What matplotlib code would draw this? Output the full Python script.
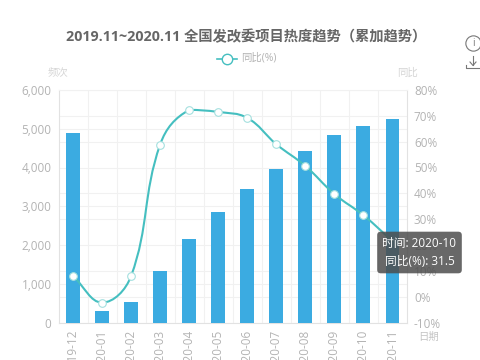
import matplotlib
matplotlib.use("Agg")
import matplotlib.pyplot as plt
from matplotlib.path import Path
from matplotlib.patches import PathPatch

plt.rcParams['font.family'] = ['Open Sans', 'Noto Sans CJK SC', 'DejaVu Sans']

months = ["2019-12", "2020-01", "2020-02", "2020-03", "2020-04", "2020-05",
          "2020-06", "2020-07", "2020-08", "2020-09", "2020-10", "2020-11"]
counts = [4880, 300, 540, 1320, 2150, 2850, 3450, 3960, 4430, 4830, 5070, 5260]
yoy = [8.0, -2.3, 8.0, 58.9, 72.3, 71.5, 69.2, 59.0, 50.6, 39.7, 31.5, 21.5]
count_ticks = [0, 1000, 2000, 3000, 4000, 5000, 6000]
yoy_ticks = [-10, 0, 10, 20, 30, 40, 50, 60, 70, 80]

GREY = "#b3b3b3"
GRID = "#f1f1f1"
TEAL = "#45bfc0"
BLUE = "#3babe1"


def clamp(v, a, b):
    return max(min(a, b), min(v, max(a, b)))


def smooth_path(xs, ys, smooth=0.4, xpx=29.0, ypx=2.58):
    # same control point rule as a smooth echarts line, no overshoot past neighbours
    n = len(xs)
    before, after = [], []
    for i in range(n):
        prev_i = max(i - 1, 0)
        next_i = min(i + 1, n - 1)
        d0 = ((xs[i] - xs[prev_i]) ** 2 * xpx ** 2 + (ys[i] - ys[prev_i]) ** 2 * ypx ** 2) ** 0.5
        d1 = ((xs[next_i] - xs[i]) ** 2 * xpx ** 2 + (ys[next_i] - ys[i]) ** 2 * ypx ** 2) ** 0.5
        r1 = d1 / (d0 + d1)
        vx = xs[next_i] - xs[prev_i]
        vy = ys[next_i] - ys[prev_i]
        after.append((xs[i] + vx * smooth * r1, clamp(ys[i] + vy * smooth * r1, ys[i], ys[next_i])))
        before.append((xs[i] - vx * smooth * (1 - r1), clamp(ys[i] - vy * smooth * (1 - r1), ys[i], ys[prev_i])))
    verts = [(xs[0], ys[0])]
    codes = [Path.MOVETO]
    for i in range(n - 1):
        verts += [after[i], before[i + 1], (xs[i + 1], ys[i + 1])]
        codes += [Path.CURVE4] * 3
    return Path(verts, codes)


fig = plt.figure(figsize=(4.8, 3.6), dpi=100)
ax = fig.add_axes([58.5 / 480, 1 - 322.5 / 360, 348.5 / 480, 232.5 / 360])
x = list(range(len(months)))

ax.bar(x, counts, width=0.48, color=BLUE, zorder=3)
ax.set_xlim(-0.5, 11.5)
ax.set_ylim(0, 6000)
ax.set_yticks(count_ticks)
ax.set_yticklabels([f"{v:,}" for v in count_ticks])
ax.set_yticks([(v + 10) / 90 * 6000 for v in yoy_ticks], minor=True)
ax.set_xticks(x)
ax.set_xticklabels(months, rotation=90)
ax.set_xticks([i + 0.5 for i in x[:-1]], minor=True)
ax.grid(True, which="both", color=GRID, lw=0.8, zorder=0)
ax.grid(False, which="major", axis="x")
ax.tick_params(which="both", length=0)
ax.tick_params(axis="y", labelsize=8.5, labelcolor=GREY, pad=5)
ax.tick_params(axis="x", labelsize=8.5, labelcolor=GREY, pad=5)
for s in ax.spines.values():
    s.set_color("#e2e2e2")
ax.spines["top"].set_color(GRID)

ax2 = ax.twinx()
ax2.set_ylim(-10, 80)
ax2.set_yticks(yoy_ticks)
ax2.set_yticklabels([f"{v}%" for v in yoy_ticks])
ax2.tick_params(length=0, labelsize=8.5, labelcolor=GREY, pad=5)
for s in ax2.spines.values():
    s.set_visible(False)
ax2.add_patch(PathPatch(smooth_path(x, yoy), fill=False, ec=TEAL, lw=1.5, zorder=4))
ax2.plot(x[:-1], yoy[:-1], ls="none", marker="o", ms=5.5, mfc="white", mec="#a5e0df", mew=0.8, zorder=5)

fig.text(246 / 480, 1 - 37 / 360, "2019.11~2020.11 全国发改委项目热度趋势（累加趋势）",
         ha="center", va="center", fontsize=10.3, color="#666666", fontweight="bold")

# legend
fig.add_artist(plt.Line2D([217 / 480, 237 / 480], [1 - 59 / 360] * 2, color=TEAL, lw=1.2))
fig.add_artist(plt.Line2D([227 / 480], [1 - 59 / 360], marker="o", ms=7.5, mfc="white", mec=TEAL, mew=1))
fig.text(241 / 480, 1 - 58.5 / 360, "同比(%)", ha="left", va="center", fontsize=7.5, color=GREY)

# axis names
fig.text(58 / 480, 1 - 73 / 360, "频次", ha="center", va="center", fontsize=7.5, color="#d5d5d5")
fig.text(407 / 480, 1 - 73 / 360, "同比", ha="center", va="center", fontsize=7.5, color="#d5d5d5")
fig.text(429 / 480, 1 - 337 / 360, "日期", ha="center", va="center", fontsize=7.5, color="#c5c5c5")

# tooltip
fig.text(419.5 / 480, 1 - 252.5 / 360, "时间: 2020-10\n同比(%): 31.5", ha="center", va="center",
         fontsize=8.5, color="white", linespacing=1.5, zorder=10,
         bbox=dict(boxstyle="round,pad=0.45,rounding_size=0.3", fc="#4d4d4d", ec="none", alpha=0.85))

# toolbox icons
ICON = "#777777"
fig.add_artist(plt.Line2D([473 / 480], [1 - 43 / 360], marker="o", ms=11, mfc="white", mec=ICON, mew=0.8))
fig.text(473 / 480, 1 - 43 / 360, "i", ha="center", va="center", fontsize=7, color=ICON)
fig.add_artist(plt.Line2D([473 / 480, 473 / 480], [1 - 56 / 360, 1 - 65 / 360], color=ICON, lw=0.8))
fig.add_artist(plt.Line2D([470 / 480, 473 / 480, 476 / 480], [1 - 62 / 360, 1 - 65.5 / 360, 1 - 62 / 360], color=ICON, lw=0.8))
fig.add_artist(plt.Line2D([466 / 480, 466 / 480, 480 / 480], [1 - 65 / 360, 1 - 68 / 360, 1 - 68 / 360], color=ICON, lw=0.8))

fig.savefig("out.png", dpi=100)
